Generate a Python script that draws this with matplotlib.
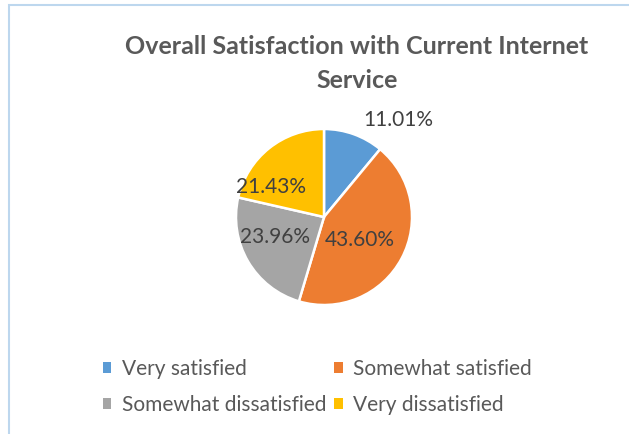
import matplotlib
matplotlib.use("Agg")
import matplotlib.pyplot as plt
from matplotlib.patches import Rectangle, Patch

# data
categories = ["Very satisfied", "Somewhat satisfied", "Somewhat dissatisfied", "Very dissatisfied"]
shares = [11.01, 43.60, 23.96, 21.43]
colors = ["#5B9BD5", "#ED7D31", "#A5A5A5", "#FFC000"]

# label spots, in pie radii from the centre
label_xy = [(0.84, 1.10), (0.41, -0.26), (-0.56, -0.23), (-0.60, 0.34)]

plt.rcParams['font.family'] = ['Lato', 'DejaVu Sans']

W, H = 629, 434
fig = plt.figure(figsize=(W / 100, H / 100), dpi=100)

# light blue chart border
fig.patches.append(Rectangle((9 / W, -0.1), 1.2, (H - 5) / H + 0.1, transform=fig.transFigure,
                             fill=False, edgecolor="#BDD7EE", linewidth=1.5))

fig.text(357 / W, 1 - 47 / H, "Overall Satisfaction with Current Internet", ha="center", va="center",
         fontsize=18, fontweight="bold", color="#595959")
fig.text(357 / W, 1 - 80 / H, "Service", ha="center", va="center",
         fontsize=18, fontweight="bold", color="#595959")

# pie axes: centre (324, 217) px, radius 88 px
cx, cy, r = 324, 217, 88
half = 100
ax = fig.add_axes([(cx - half) / W, (H - cy - half) / H, 2 * half / W, 2 * half / H])
wedges, _ = ax.pie(shares, colors=colors, startangle=90, counterclock=False, radius=1,
                   wedgeprops=dict(edgecolor="white", linewidth=1.8))
lim = half / r
ax.set_xlim(-lim, lim)
ax.set_ylim(-lim, lim)
ax.set_aspect("equal")
ax.axis("off")

for v, (x, y) in zip(shares, label_xy):
    ax.text(x, y, f"{v:.2f}%", ha="center", va="center", fontsize=15, color="#404040")

# legend filled row by row
order = [0, 2, 1, 3]
handles = [Patch(facecolor=colors[i], edgecolor="none") for i in order]
labels = [categories[i] for i in order]
fig.legend(handles, labels, ncol=2, loc="center left", bbox_to_anchor=(84 / W, 1 - 387 / H),
           frameon=False, fontsize=15, labelcolor="#595959", handlelength=0.4, handleheight=0.4,
           handletextpad=0.5, columnspacing=0.4, labelspacing=0.75)

fig.savefig("out.png", dpi=100)
